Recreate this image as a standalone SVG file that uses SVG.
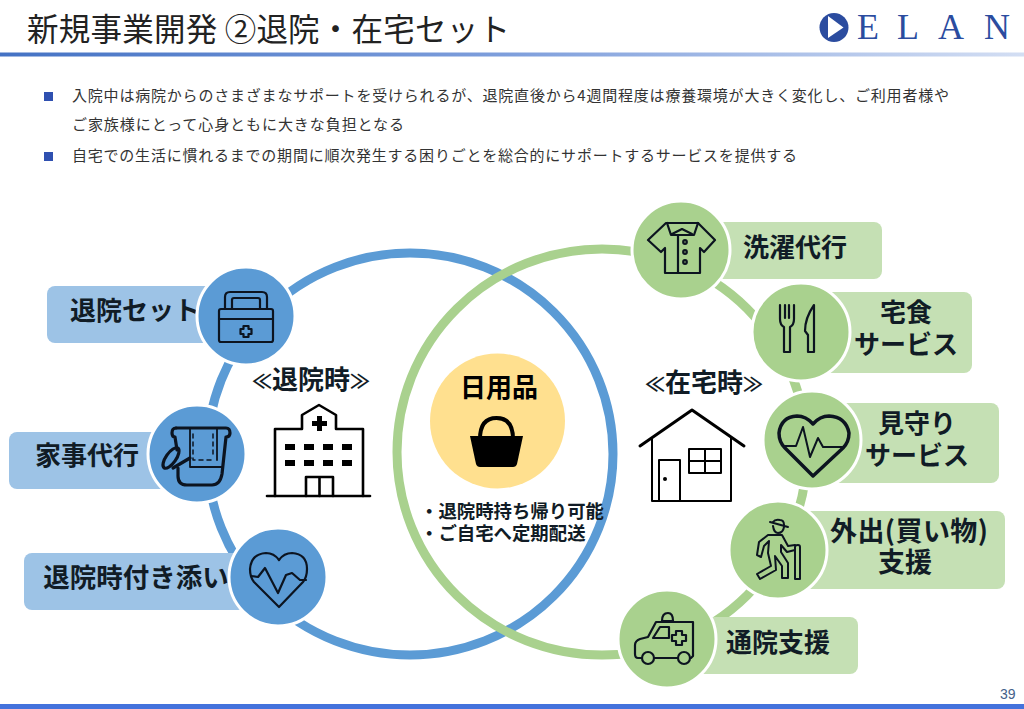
<svg xmlns="http://www.w3.org/2000/svg" width="1024" height="709" viewBox="0 0 1024 709">
<defs>
<linearGradient id="hdr" x1="0" x2="1" y1="0" y2="0"><stop offset="0" stop-color="#4472C4"/><stop offset="0.5" stop-color="#7F9FDC"/><stop offset="1" stop-color="#D3DEF3"/></linearGradient>
</defs>
<style>
text{font-family:"Noto Sans CJK JP","Noto Sans",sans-serif;fill:#111c26}
.t{font-weight:700;font-size:26px;text-anchor:middle}
.b{font-size:15px;fill:#333}
.lg{font-family:"Liberation Serif",serif;font-size:36px;fill:#2B4C9F}
.c1{fill:#5B9BD5;stroke:#fff;stroke-width:3}
.c2{fill:#A9D18E;stroke:#fff;stroke-width:3}
.l1{fill:#9DC3E6}
.l2{fill:#C5E0B4}
.i{fill:none;stroke:#0c1420;stroke-width:2.2;stroke-linejoin:round;stroke-linecap:round}
.k{fill:none;stroke:#000;stroke-width:2.6;stroke-linejoin:round;stroke-linecap:round}
.f{fill:#000;stroke:none}
</style>
<rect width="1024" height="709" fill="#fff"/>
<g id="header">
<text x="27" y="41" font-size="31.500" textLength="483" style="fill:#222">新規事業開発 ②退院・在宅セット</text>
<rect x="0" y="52.500" width="1024" height="4" fill="url(#hdr)"/>
<g id="logo">
<circle cx="834" cy="27.500" r="14.500" fill="#2B4C9F"/>
<path d="M828 16L843.500 27.500L828 38Z" fill="#fff"/>
<text class="lg" x="857" y="39">E</text>
<text class="lg" x="897" y="39">L</text>
<text class="lg" x="938" y="39">A</text>
<text class="lg" x="984" y="39">N</text>
</g>
</g>
<g id="intro">
<rect x="44" y="92" width="9" height="9" fill="#2F50B0"/>
<text class="b" x="72" y="101" textLength="877">入院中は病院からのさまざまなサポートを受けられるが、退院直後から4週間程度は療養環境が大きく変化し、ご利用者様や</text>
<text class="b" x="72" y="130" textLength="332">ご家族様にとって心身ともに大きな負担となる</text>
<rect x="44" y="152" width="9" height="9" fill="#2F50B0"/>
<text class="b" x="72" y="161" textLength="725">自宅での生活に慣れるまでの期間に順次発生する困りごとを総合的にサポートするサービスを提供する</text>
</g>
<g id="connectors" fill="none" stroke-width="9">
<ellipse cx="410" cy="454" rx="203" ry="201" stroke="#5B9BD5"/>
<ellipse cx="602" cy="452" rx="205" ry="203" stroke="#A9D18E"/>
</g>
<g id="node-taiin-set">
<rect class="l1" x="47" y="286" width="170" height="57" rx="8"/>
<text class="t" x="135" y="320">退院セット</text>
<circle class="c1" cx="246" cy="316" r="49"/>
<g class="i"><rect x="219" y="309" width="54" height="33" rx="2"/><path d="M219 319H273"/><path d="M225 309V297Q225 292 230 292H262Q267 292 267 297V309M232 309V300Q232 298 234 298H258Q260 298 260 300V309"/><path d="M243.500 326h5v3h3v5h-3v3h-5v-3h-3v-5h3z"/></g>
</g>
<g id="node-kaji">
<rect class="l1" x="9" y="432" width="160" height="57" rx="8"/>
<text class="t" x="87" y="465">家事代行</text>
<circle class="c1" cx="197" cy="454" r="49"/>
<g class="i" style="stroke-width:3.200"><path d="M176 428H226Q230 428 230 433Q230 437 226 437L222 474Q220 485 212 485H187Q178 485 178 476V468"/><path d="M176 428Q172 428 172 433Q172 437 175 437L177 450"/><ellipse cx="171" cy="458" rx="5" ry="12" transform="rotate(35 171 458)"/><path d="M173 468L190 458"/><path d="M190 429V467H222" style="stroke-width:1.800"/><path d="M217 429V460" style="stroke-width:1.800"/><path d="M193 434V460H213M213 434V458" style="stroke-width:1.500;stroke-dasharray:4 4"/></g>
</g>
<g id="node-tsukisoi">
<rect class="l1" x="24" y="553" width="222" height="57" rx="8"/>
<text class="t" x="136" y="587" style="font-size:26.500px">退院時付き添い</text>
<circle class="c1" cx="278" cy="577" r="49"/>
<g class="i"><path d="M279 607L254 582Q250 577 250 569Q251 554 266 553Q274 553 279 560Q284 553 292 553Q307 554 307 569Q307 577 303 582Z"/><path d="M251 576L258 577L265 568L278 593L286 575L292 573L300 580H306"/></g>
</g>
<g id="node-center">
<circle cx="497.500" cy="421" r="67.500" fill="#FFE08F"/>
<text class="t" x="499" y="397" style="fill:#000">日用品</text>
<path class="f" d="M470 436H523L517 464Q516 467 513 467H480Q477 467 476 464Z"/>
<path d="M480 439Q480 418 496.500 418Q513 418 513 439" fill="none" stroke="#000" stroke-width="4"/>
<text font-size="18.400" font-weight="700"><tspan x="420" y="518">・退院時持ち帰り可能</tspan><tspan x="420" y="540">・ご自宅へ定期配送</tspan></text>
</g>
<g id="node-taiinji">
<text class="t" x="311" y="389"><tspan font-size="20">≪</tspan>退院時<tspan font-size="20">≫</tspan></text>
<g class="k"><path d="M267 496H370"/><path d="M275 496V429H302V415L319 405L336 415V429H363V496"/><path d="M306 496V477H333V496M319.500 477V496"/></g>
<path class="f" d="M317 416h5v5h5v5h-5v5h-5v-5h-5v-5h5z"/>
<g class="f"><rect x="285" y="444" width="10" height="6"/><rect x="304" y="444" width="10" height="6"/><rect x="323" y="444" width="10" height="6"/><rect x="342" y="444" width="10" height="6"/><rect x="285" y="460" width="10" height="6"/><rect x="304" y="460" width="10" height="6"/><rect x="323" y="460" width="10" height="6"/><rect x="342" y="460" width="10" height="6"/></g>
</g>
<g id="node-zaitakuji">
<text class="t" x="704" y="392"><tspan font-size="20">≪</tspan>在宅時<tspan font-size="20">≫</tspan></text>
<g class="k"><path d="M640 446L692 410L744 446" style="stroke-width:3"/><path d="M652 438V501H731V438" style="stroke-width:2"/><path d="M659 501V460H680V501" style="stroke-width:2"/><rect x="689" y="449" width="32" height="24" style="stroke-width:2"/><path d="M705 449V473M689 461H721" style="stroke-width:2"/></g>
<circle class="f" cx="665" cy="479" r="2"/>
</g>
<g id="node-sentaku">
<rect class="l2" x="670" y="222" width="212" height="57" rx="8"/>
<text class="t" x="795" y="257">洗濯代行</text>
<circle class="c2" cx="681" cy="250" r="49"/>
<g class="i"><path d="M666 223L648 240L661 252L665 248V273H700V248L704 252L715 240L698 223Z"/><path d="M667 223L671 235L682 235L694 235L698 223M667 223H698M672 234L682 229L692 234M678 235V273"/><circle cx="685" cy="242" r="1.800"/><circle cx="685" cy="252" r="1.800"/><circle cx="685" cy="262" r="1.800"/></g>
</g>
<g id="node-takushoku">
<rect class="l2" x="790" y="292" width="182" height="81" rx="8"/>
<text font-weight="700" font-size="26" text-anchor="middle"><tspan x="906" y="322">宅食</tspan><tspan x="906" y="354">サービス</tspan></text>
<circle class="c2" cx="801" cy="332" r="49"/>
<g class="i"><path d="M780 305V319Q780 325 784 327V352H790V327Q794 325 794 319V305M785 305V318M789 305V318"/><path d="M814 305Q805 318 805 331L808 335V352H814Z"/></g>
</g>
<g id="node-mimamori">
<rect class="l2" x="800" y="403" width="199" height="80" rx="8"/>
<text font-weight="700" font-size="26" text-anchor="middle"><tspan x="917" y="433">見守り</tspan><tspan x="917" y="465">サービス</tspan></text>
<circle class="c2" cx="812" cy="440" r="49"/>
<g class="i" style="stroke-width:3.500"><path d="M813 476L785 448Q779 442 779 433Q781 417 797 416Q806 416 813 424Q820 416 829 416Q846 417 849 433Q849 442 843 448Z"/><path d="M784 446H796L803 427L810 457L818 438L823 447H844" style="stroke-width:2"/></g>
</g>
<g id="node-gaishutsu">
<rect class="l2" x="770" y="511" width="235" height="78" rx="8"/>
<text font-weight="700" font-size="27" text-anchor="middle"><tspan x="909" y="541" textLength="158">外出(買い物)</tspan><tspan x="905" y="572">支援</tspan></text>
<circle class="c2" cx="778" cy="550" r="49"/>
<g class="i" style="stroke-width:2"><path d="M770 522L788 527M773 522Q775 519 780 520Q784 520 784 525"/><path d="M773 526Q774 533 778 533Q783 533 784 527"/><path d="M768 535L759 542L757 555L761 557L764 546L769 541L768 553L771 566L757 574L760 579L776 570L775 556L782 566L782 578H788L788 563L781 552L781 545L787 552L795 550M768 535H782L788 546L795 545"/><path d="M795 579V547Q795 545 798 545Q800 545 800 547V579Z"/></g>
</g>
<g id="node-tsuin">
<rect class="l2" x="660" y="617" width="198" height="57" rx="8"/>
<text class="t" x="778" y="652">通院支援</text>
<circle class="c2" cx="667" cy="639" r="49"/>
<g class="i"><path d="M642 658H638Q635 658 635 654V645Q635 641 640 639L648 637L656 622H693V656L691 658H690M678 658H654"/><circle cx="648" cy="658" r="6"/><circle cx="684" cy="658" r="6"/><path d="M653 638L660 627H669V638Z"/><path d="M676 635v-4h6v4h4v6h-4v4h-6v-4h-4v-6z"/><path d="M662 621Q662 613 668 613Q673 613 673 621Z"/></g>
</g>
<g id="footer">
<text x="1000" y="699" font-size="14" style="font-family:'Liberation Sans',sans-serif;fill:#44618a">39</text>
<rect x="0" y="704" width="1024" height="5" fill="#4472DC"/>
</g>
</svg>
